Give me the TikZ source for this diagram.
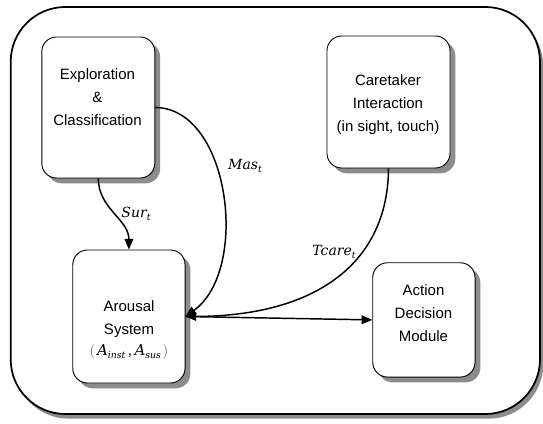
\documentclass[tikz,border=0pt]{standalone}
\usepackage{fontspec}
\setmainfont{Liberation Sans}
\newfontfamily\sigfont{DejaVu Serif}
\newcommand{\sig}[2]{{\sigfont\itshape #1\raisebox{-0.45ex}{\fontsize{7}{8}\selectfont #2}}}
\usetikzlibrary{arrows.meta,shadows}
\begin{document}
\begin{tikzpicture}[x=0.75pt,y=-0.75pt,
  every node/.style={font=\fontsize{11.25}{17.25}\selectfont},
  box/.style={draw=black,line width=0.7pt,fill=white,rounded corners=11pt,
    drop shadow={shadow xshift=4pt,shadow yshift=-4pt,fill=black!45,opacity=1}},
  lbl/.style={align=center,inner sep=0pt},
  sigl/.style={font=\fontsize{10.5}{12}\selectfont,inner sep=0pt},
  link/.style={line width=1.1pt,-{Triangle[length=8pt,width=6.5pt]}}]
\useasboundingbox (0,0) rectangle (543,424);
% outer frame
\draw [line width=1.3pt,fill=white,rounded corners=41pt,
  drop shadow={shadow xshift=2.5pt,shadow yshift=-3.5pt,fill=black!45,opacity=1}]
  (10.7,7) rectangle (540,414);
% modules
\node [box,minimum width=84.75pt,minimum height=105.75pt] (explo) at (98.3,107.5) {};
\node [lbl] (explo-txt) at (97.5,97) {Exploration\\\&\\Classification};
\node [box,minimum width=92.25pt,minimum height=99pt] (care) at (388.5,102) {};
\node [lbl] (care-txt) at (388,104.8) {Caretaker\\Interaction\\(in sight, touch)};
\node [box,minimum width=84.2pt,minimum height=99.75pt] (arousal) at (128.9,316.5) {};
\node [lbl] (arousal-txt) at (129,330) {Arousal\\System\\[-2pt]{\color{black!60}$\left(\vphantom{A_i}\right.$}\sig{A}{inst}\,,\,\sig{A}{sus}{\color{black!60}$\left.\vphantom{A_i}\right)$}};
\node [box,minimum width=76.7pt,minimum height=85.7pt] (action) at (423.9,319.9) {};
\node [lbl] (action-txt) at (423.5,313) {Action\\Decision\\Module};
% signals
\draw [link] (explo.south) to[out=-90,in=90] (arousal.north);
\node [sigl] (sur) at (136,214) {\sig{Sur}{t}};
\draw [link] (explo.east) .. controls (230,108) and (250,270) .. (arousal.east);
\node [sigl] (mas) at (245,166) {\sig{Mas}{t}};
\draw [link] (care.south) .. controls (388,260) and (320,316) .. (arousal.east);
\node [sigl] (tcare) at (334,252) {\sig{Tcare}{t}};
\draw [link] (arousal.east) -- (action.west);
\end{tikzpicture}
\end{document}
